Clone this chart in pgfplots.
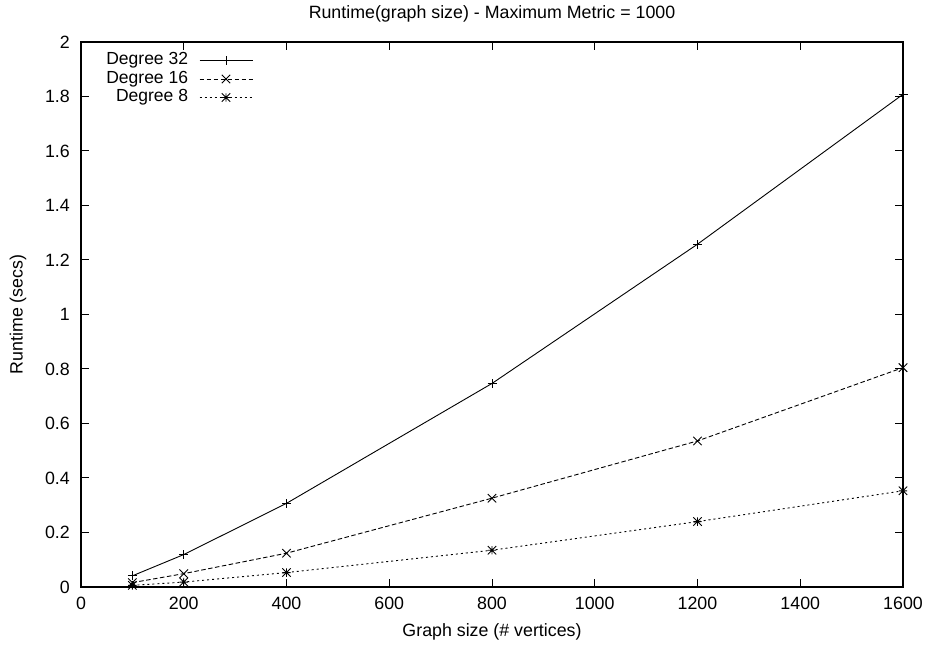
\documentclass[border=0pt]{standalone}
\usepackage{pgfplots}
\pgfplotsset{compat=1.18}
\usepackage{fontspec}
\setmainfont{Liberation Sans}
\pgfdeclareplotmark{gpplus}{%
  \pgfpathmoveto{\pgfqpoint{-\pgfplotmarksize}{0pt}}\pgfpathlineto{\pgfqpoint{\pgfplotmarksize}{0pt}}%
  \pgfpathmoveto{\pgfqpoint{0pt}{-\pgfplotmarksize}}\pgfpathlineto{\pgfqpoint{0pt}{\pgfplotmarksize}}%
  \pgfusepathqstroke}
\pgfdeclareplotmark{gpcross}{%
  \pgfpathmoveto{\pgfqpoint{-\pgfplotmarksize}{-\pgfplotmarksize}}\pgfpathlineto{\pgfqpoint{\pgfplotmarksize}{\pgfplotmarksize}}%
  \pgfpathmoveto{\pgfqpoint{-\pgfplotmarksize}{\pgfplotmarksize}}\pgfpathlineto{\pgfqpoint{\pgfplotmarksize}{-\pgfplotmarksize}}%
  \pgfusepathqstroke}
\pgfdeclareplotmark{gpstar}{%
  \pgfpathmoveto{\pgfqpoint{-\pgfplotmarksize}{0pt}}\pgfpathlineto{\pgfqpoint{\pgfplotmarksize}{0pt}}%
  \pgfpathmoveto{\pgfqpoint{0pt}{-\pgfplotmarksize}}\pgfpathlineto{\pgfqpoint{0pt}{\pgfplotmarksize}}%
  \pgfpathmoveto{\pgfqpoint{-\pgfplotmarksize}{-\pgfplotmarksize}}\pgfpathlineto{\pgfqpoint{\pgfplotmarksize}{\pgfplotmarksize}}%
  \pgfpathmoveto{\pgfqpoint{-\pgfplotmarksize}{\pgfplotmarksize}}\pgfpathlineto{\pgfqpoint{\pgfplotmarksize}{-\pgfplotmarksize}}%
  \pgfusepathqstroke}
\begin{document}
\begin{tikzpicture}
\useasboundingbox (-81bp,-63bp) rectangle (849bp,587bp);
\begin{axis}[
  scale only axis,
  width=822bp, height=545bp,
  xmin=0, xmax=1600, ymin=0, ymax=2,
  xtick={0,200,...,1600},
  ytick={0,0.2,...,2.01},
  minor tick num=0,
  xtick pos=both, ytick pos=both,
  tick align=inside,
  major tick length=8bp,
  tick style={line width=1bp, black},
  axis line style={line width=1.1bp},
  font=\fontsize{17.8bp}{20bp}\selectfont,
  /pgf/number format/assume math mode=true,
  /pgf/number format/1000 sep={},
  xticklabel style={inner sep=0pt, anchor=center, yshift=-16bp},
  yticklabel style={inner sep=0pt, anchor=east, xshift=-11bp},
  title={Runtime(graph size) - Maximum Metric = 1000},
  title style={at={(axis description cs:0.5,1.0404)}, anchor=center, inner sep=0pt},
  xlabel={Graph size (\# vertices)},
  xlabel style={at={(axis description cs:0.5,-0.0826)}, anchor=center, inner sep=0pt},
  ylabel={Runtime (secs)},
  ylabel style={at={(axis description cs:-0.0766,0.5)}, anchor=center, inner sep=0pt},
  clip=false,
  legend cell align=right,
  legend plot pos=right,
  legend image code/.code={\draw[mark repeat=2,mark phase=2,#1] plot coordinates {(0bp,0bp)(26.5bp,0bp)(53bp,0bp)};},
  legend style={draw=none, fill=none, inner sep=0pt, outer sep=0pt,
    at={(axis description cs:0.2092,1)}, anchor=north east, yshift=-10.5bp,
    column sep=11bp, row sep=2.5bp,
    nodes={inner sep=0pt, text height=12.5bp, text depth=3.5bp},
    font=\fontsize{17.5bp}{20bp}\selectfont},
  every axis plot/.append style={line width=0.9bp, black},
]
\addplot[solid, mark=gpplus, mark size=4.5bp, mark options={solid}]
  coordinates {(100,0.041)(200,0.119)(400,0.307)(800,0.747)(1200,1.258)(1600,1.808)};
\addlegendentry{Degree 32}
\addplot[dash pattern=on 4.5bp off 2.5bp, mark=gpcross, mark size=4.2bp, mark options={solid}]
  coordinates {(100,0.016)(200,0.049)(400,0.124)(800,0.326)(1200,0.536)(1600,0.805)};
\addlegendentry{Degree 16}
\addplot[dash pattern=on 2bp off 3bp, mark=gpstar, mark size=4.2bp, mark options={solid}]
  coordinates {(100,0.006)(200,0.018)(400,0.053)(800,0.135)(1200,0.240)(1600,0.353)};
\addlegendentry{Degree 8}
\end{axis}
\end{tikzpicture}
\end{document}
